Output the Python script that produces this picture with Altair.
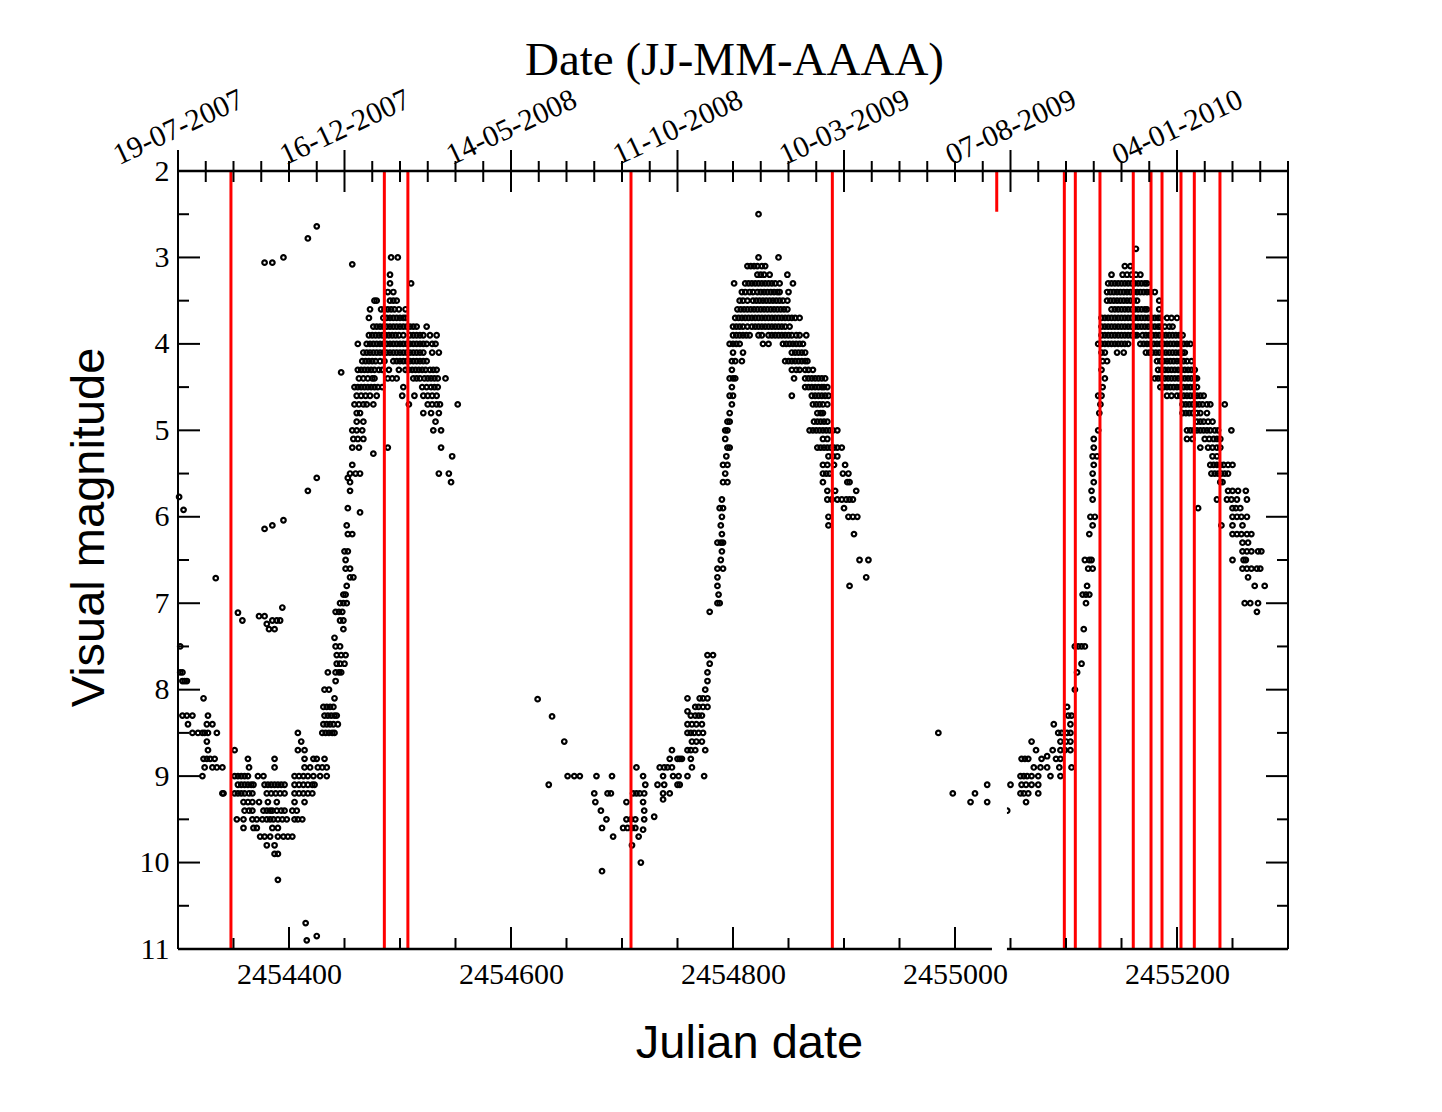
import altair as alt
import pandas as pd

JD0 = 2454300
X_DOMAIN = [2454300, 2455300]
Y_DOMAIN = [2, 11]
W, H = 1110, 778

# Observations: (visual magnitude, [day offsets from JD0])
obs_cycle1 = [
    (5.77, [1]), (5.92, [5]), (6.71, [34]), (7.5, [2]), (7.8, [2, 4]), (7.9, [4, 6, 8]),
    (8.1, [23]), (8.3, [4, 8, 13, 27]), (8.4, [9, 26, 31]), (8.5, [13, 18, 22, 24, 27, 35]),
    (8.6, [26]), (8.7, [27]), (8.8, [23, 26, 29, 33]), (8.9, [24, 31, 35, 40]), (9.0, [22]),
    (9.2, [40, 41]),
    (8.7, [51]), (8.8, [63, 87]), (8.9, [64, 87]), (9.0, [51, 54, 57, 60, 63, 72, 77]),
    (9.1, [54, 57, 60, 63, 66, 68, 78, 81, 84, 87, 90, 93, 96]),
    (9.2, [51, 54, 57, 60, 64, 67, 80, 84, 88, 92, 96]),
    (9.3, [59, 63, 67, 73, 81, 89]),
    (9.4, [60, 64, 67, 77, 80, 83, 85, 89, 93, 96]),
    (9.5, [53, 59, 67, 71, 76, 80, 83, 86, 90, 94, 98]),
    (9.6, [59, 68, 71, 85, 90]), (9.7, [74, 78, 83, 90, 95, 99, 103]),
    (9.8, [80, 87]), (9.9, [87, 90]), (10.2, [90]), (10.7, [115]), (10.85, [125]), (10.9, [116]),
    (8.5, [108]), (8.6, [111]), (8.7, [108, 114]), (8.8, [114, 122, 125, 132]),
    (8.9, [114, 119, 126, 130, 134]), (9.0, [105, 109, 113, 117, 122, 128, 134]),
    (9.1, [105, 109, 113, 117, 121, 123]), (9.2, [105, 109, 113, 117, 121]),
    (9.3, [105, 114]), (9.4, [103, 107]), (9.5, [105, 108, 112]),
    (7.11, [54]), (7.2, [58, 85, 89, 92]), (7.15, [73, 78]), (7.24, [80]), (7.3, [82, 87]),
    (7.05, [94]), (6.14, [78]), (6.1, [85]), (6.04, [95]), (3.06, [78, 85]), (3.0, [95]),
    (2.78, [117]), (2.64, [125]), (5.7, [117]), (5.55, [125]),
    (8.5, [130, 133, 136, 139, 141]), (8.4, [131, 134, 137, 140, 144]),
    (8.3, [132, 135, 138, 141, 143]), (8.2, [131, 134, 137, 140]), (8.1, [141]),
    (8.0, [132, 136]), (7.9, [142]), (7.8, [135, 142, 145, 147]), (7.7, [143, 146, 150]),
    (7.6, [143, 147, 151]), (7.5, [142, 146]), (7.4, [141]), (7.3, [149]), (7.2, [146, 149]),
    (7.1, [142, 145, 148]), (7.0, [146, 149, 152]), (6.9, [149, 151]), (6.8, [152]),
    (6.7, [155, 158]), (6.6, [151, 155]), (6.5, [151]), (6.4, [150, 153]), (6.2, [153, 157]),
    (6.1, [152]), (5.95, [164]), (5.9, [153]), (5.7, [155]), (5.6, [155, 246]), (5.55, [153]),
    (5.5, [155, 160, 164, 235, 244]), (5.4, [157]), (5.27, [176]), (5.3, [247]),
    (5.2, [157, 163, 189, 237]), (5.1, [158, 162, 167]), (5.0, [157, 161, 166, 230, 237]),
    (4.9, [161, 167, 232]), (4.8, [161, 164, 221, 228, 235]),
    (4.7, [159, 163, 167, 170, 176, 208, 225, 229, 233, 236, 252]),
    (4.6, [161, 165, 169, 173, 179, 202, 213, 221, 225, 229, 233]),
    (4.5, [159, 162, 165, 168, 171, 174, 177, 180, 184, 203, 220, 224, 228, 231, 234]),
    (4.4, [163, 167, 171, 175, 177, 189, 193, 197, 212, 215, 218, 222, 225, 228, 231, 234, 241]),
    (4.33, [147]),
    (4.3, [162, 165, 168, 171, 174, 177, 181, 184, 190, 199, 205, 208, 211, 214, 217, 220,
           223, 227, 230, 233]),
    (4.2, [166, 169, 172, 175, 178, 182, 186, 194, 197, 200, 203, 206, 209, 212, 215, 218,
           221, 224]),
    (4.1, [167, 170, 173, 176, 179, 182, 185, 188, 191, 194, 197, 200, 203, 206, 209, 212,
           215, 218, 221, 229, 235]),
    (4.0, [162, 170, 173, 176, 179, 182, 185, 188, 191, 194, 197, 200, 203, 206, 209, 212,
           215, 218, 221, 224, 229, 232]),
    (3.9, [172, 175, 178, 181, 184, 187, 190, 193, 196, 199, 203, 209, 212, 215, 218, 221,
           227, 233]),
    (3.8, [176, 179, 182, 185, 188, 191, 194, 197, 200, 203, 206, 209, 212, 215, 224]),
    (3.7, [172, 185, 188, 191, 194, 197, 200, 203, 205]),
    (3.6, [173, 183, 186, 189, 192, 195, 199, 205]),
    (3.5, [177, 179, 191, 194, 197]), (3.4, [189, 194]), (3.3, [191, 210]), (3.2, [191]),
    (3.08, [157]), (3.0, [192, 198]),
]

obs_cycle2 = [
    (8.11, [324]), (8.31, [337]), (8.6, [348]), (9.1, [334]),
    (9.0, [351, 357, 362, 377, 391]), (9.2, [375, 387, 390]), (9.3, [376]), (9.4, [381]),
    (9.5, [386]), (9.6, [382]), (9.7, [392]), (10.1, [382]),
    (9.3, [404, 419]), (9.5, [404, 408, 412, 420]), (9.6, [401, 405, 409, 412]),
    (9.8, [409]), (10.0, [417]), (9.7, [415]), (9.62, [419]), (9.4, [420]),
    (9.2, [410, 413, 416, 420, 437, 443]), (9.1, [421, 432, 438, 450, 452]),
    (9.0, [419, 437, 446, 451, 459, 474]), (8.9, [413, 434, 438, 441, 445, 463]),
    (9.47, [429]), (9.27, [437]), (8.8, [443, 450, 452, 454, 462]),
    (8.7, [445, 459, 462, 466, 475]), (8.6, [463, 467, 472]), (8.5, [459, 462, 465, 469, 473]),
    (8.4, [459, 463, 467, 472]), (8.25, [459]), (8.3, [462, 466, 469, 472]),
    (8.2, [466, 469, 473, 477]), (8.1, [459, 470, 473, 477]), (8.0, [475]), (7.9, [477]),
    (7.8, [477]), (7.7, [479]), (7.6, [477, 482]),
    (7.1, [479]), (7.0, [486, 488]), (6.9, [487]), (6.8, [486]), (6.7, [486]), (6.6, [486, 491]),
    (6.5, [489]), (6.4, [490]), (6.3, [486, 489, 491]), (6.2, [490]), (6.1, [489]), (6.0, [490]),
    (5.9, [488, 491]), (5.8, [490]), (5.6, [491, 495]), (5.5, [493]), (5.4, [491, 495]),
    (5.3, [494]), (5.2, [495, 497]), (5.1, [493]), (5.0, [493, 495]), (4.9, [495, 497]),
    (4.8, [497]), (4.7, [499]), (4.6, [497, 500]), (4.5, [499]), (4.4, [497, 500, 502]),
    (4.3, [499]), (4.2, [499, 502, 508]), (4.1, [500, 509]),
    (4.0, [497, 500, 503, 506, 527, 532, 545, 548, 551, 554, 557, 560, 563]),
    (3.9, [500, 503, 506, 509, 512, 515, 523, 526, 532, 535, 538, 541, 544, 547, 550, 553,
           557, 560, 566]),
    (3.8, [500, 503, 506, 509, 513, 517, 520, 523, 526, 529, 532, 535, 538, 541, 544, 547, 551]),
    (3.7, [502, 505, 508, 511, 514, 517, 520, 523, 526, 529, 532, 535, 538, 541, 544, 547,
           550, 553, 556, 560]),
    (3.6, [504, 507, 510, 513, 516, 519, 522, 525, 528, 531, 534, 537, 540, 543, 546, 549]),
    (3.5, [506, 509, 513, 518, 521, 524, 527, 530, 533, 536, 539, 542, 545, 549]),
    (3.4, [508, 511, 515, 518, 522, 525, 528, 531, 534, 537, 540, 542, 550]),
    (3.3, [501, 511, 514, 517, 520, 523, 526, 529, 532, 535, 538, 542, 554]),
    (3.2, [522, 525, 528, 533, 549]), (3.1, [513, 516, 519, 522, 526, 529]),
    (3.0, [523, 541]), (2.5, [523]),
    (4.1, [553, 556, 559, 562, 565]), (4.2, [547, 550, 553, 556, 559, 562, 565, 567]),
    (4.3, [553, 557, 560, 565, 568, 572]), (4.4, [555, 565, 568, 571, 574, 577, 580, 583]),
    (4.5, [565, 568, 571, 574, 577, 580, 582, 585]), (4.6, [553, 571, 574, 577, 580, 583, 586]),
    (4.7, [572, 575, 578, 581, 585]), (4.8, [576, 579, 581]), (4.9, [573, 576, 579, 582, 585]),
    (5.0, [569, 572, 575, 578, 581, 584, 587, 590, 594]), (5.1, [581, 585]),
    (5.2, [576, 579, 582, 585, 588, 591, 594, 598]), (5.3, [586, 590, 594]),
    (5.4, [581, 585, 591, 601]), (5.5, [581, 584, 587, 599, 604]), (5.6, [581, 603, 605]),
    (5.7, [585, 592, 611]), (5.8, [585, 589, 594, 598, 602, 605, 608]), (5.9, [600]),
    (6.0, [586, 604, 608, 612]), (6.1, [586]), (6.2, [609]), (6.5, [614, 622]), (6.7, [620]),
    (6.8, [605]),
]

obs_cycle3 = [
    (8.5, [685]), (9.2, [698, 718]), (9.3, [714, 729]), (9.1, [729, 750]), (9.4, [747]),
    (9.0, [759, 762, 765, 769, 775, 786, 795]), (9.1, [760, 764, 769, 775]),
    (9.2, [759, 762, 766, 775]), (9.3, [764]), (8.8, [760, 763, 766, 778, 791, 795]),
    (8.6, [769, 795, 800, 804]), (8.9, [771, 777, 783, 794, 805]),
    (8.7, [773, 788, 795, 799, 804]), (8.77, [783]), (8.4, [789, 804]),
    (8.5, [793, 796, 801, 804]), (8.3, [802, 805]), (8.2, [801]), (8.0, [808]), (7.8, [810]),
    (7.7, [814]), (7.5, [808, 811, 814, 817]), (7.3, [816]), (7.0, [818]),
    (6.9, [815, 818, 821]), (6.8, [819]), (6.6, [820, 824]), (6.5, [817, 821, 823]),
    (6.2, [821, 950, 954, 958, 963, 967]), (6.1, [824, 940, 950, 959]),
    (6.0, [822, 826, 950, 954, 958, 963]), (5.9, [919, 950, 953, 957]),
    (5.8, [824, 936, 945, 949, 954, 963]), (5.7, [823, 946, 950, 955, 962]),
    (5.6, [825, 939, 941]), (5.5, [824, 931, 934, 937, 940, 943, 946]),
    (5.4, [825, 930, 933, 936, 939, 942, 946, 950]), (5.3, [824, 828, 932, 936]),
    (5.2, [825, 921, 928, 932, 936, 939]), (5.1, [825, 909, 914, 925, 929, 933, 936, 939]),
    (5.0, [829, 909, 912, 915, 918, 921, 924, 927, 930, 934, 937, 949]),
    (4.9, [918, 921, 924, 928, 932]), (4.8, [830, 905, 908, 911, 914, 918, 921, 927]),
    (4.7, [831, 905, 908, 911, 914, 917, 920, 923, 927, 930, 943]),
    (4.6, [829, 832, 891, 895, 900, 903, 906, 909, 912, 915, 918, 921, 924]),
    (4.5, [833, 885, 888, 891, 894, 897, 900, 903, 906, 909, 912, 915, 918]),
    (4.4, [835, 880, 883, 886, 889, 892, 895, 898, 901, 904, 907, 910, 913, 916, 918]),
    (4.3, [832, 883, 886, 889, 892, 895, 898, 901, 904, 907, 910, 913, 916]),
    (4.2, [833, 837, 882, 885, 888, 891, 894, 897, 900, 903, 906, 909, 913]),
    (4.1, [832, 835, 846, 852, 872, 875, 878, 881, 884, 887, 890, 893, 896, 899, 902, 905, 907]),
    (4.0, [829, 832, 835, 838, 841, 844, 847, 850, 853, 856, 867, 870, 873, 876, 879, 882,
           885, 888, 891, 894, 897, 900, 903, 906, 909, 912]),
    (3.9, [832, 835, 838, 841, 844, 847, 850, 853, 856, 859, 862, 864, 869, 872, 875, 878,
           881, 884, 887, 890, 893, 896, 899, 902, 905]),
    (3.8, [832, 835, 838, 841, 844, 847, 850, 853, 856, 859, 862, 865, 868, 871, 874, 877,
           880, 883, 885, 889, 893, 896]),
    (3.7, [832, 835, 838, 841, 844, 847, 850, 853, 856, 859, 862, 865, 868, 871, 874, 877,
           880, 883, 885, 891, 895, 900]),
    (3.6, [841, 844, 847, 850, 853, 856, 859, 862, 865, 868, 871, 873, 884]),
    (3.5, [837, 840, 843, 846, 849, 852, 855, 858, 861, 864, 884]),
    (3.4, [837, 840, 843, 846, 849, 852, 855, 858, 861, 864, 867, 870, 873, 876, 880]),
    (3.3, [838, 841, 844, 847, 850, 853, 856, 859, 862, 865, 868, 871, 873]),
    (3.2, [841, 851, 855, 859, 863, 867]), (3.1, [853, 858]), (2.9, [863]),
    (6.3, [959, 964]), (6.4, [959, 963, 967, 973, 976]), (6.5, [950, 960, 962]),
    (6.6, [959, 963, 967, 972, 975]), (6.7, [964]), (6.8, [970, 979]),
    (7.0, [961, 966, 973]), (7.1, [972]),
]

# Red vertical lines (day offsets from JD0)
red_line_days = [47.7, 185.9, 207.1, 408.1, 589.5, 737.6, 798.5, 808.4, 830.6,
                 860.6, 876.6, 886.5, 903.6, 915.6, 938.7]

# Axis tick positions
bottom_labels = [2454400, 2454600, 2454800, 2455000, 2455200]
bottom_major = [2454400, 2454600, 2454800, 2455000, 2455200]
bottom_minor = [2454350, 2454450, 2454500, 2454550, 2454650, 2454700, 2454750,
                2454850, 2454900, 2454950, 2455050, 2455100, 2455150, 2455250]
top_major = [2454300, 2454450, 2454600, 2454750, 2454900, 2455050, 2455200]
top_labels = ["19-07-2007", "16-12-2007", "14-05-2008", "11-10-2008",
              "10-03-2009", "07-08-2009", "04-01-2010"]
top_minor = [2454325, 2454350, 2454375, 2454400, 2454425, 2454475, 2454500, 2454525,
             2454550, 2454575, 2454625, 2454650, 2454675, 2454700, 2454725, 2454775,
             2454800, 2454825, 2454850, 2454875, 2454925, 2454950, 2454975, 2455000,
             2455025, 2455075, 2455100, 2455125, 2455150, 2455175, 2455225, 2455250,
             2455275, 2455300]
y_labels = [2, 3, 4, 5, 6, 7, 8, 9, 10, 11]
y_major = [3, 4, 5, 6, 7, 8, 9, 10]
y_minor = [2.5, 3.5, 4.5, 5.5, 6.5, 7.5, 8.5, 9.5, 10.5]

# white gap that interrupts the bottom axis
gap_x = [2455033.3]
gap_x2 = [2455046.8]
gap_y = [2.47]
gap_y2 = [11.06]

rows = []
for season in (obs_cycle1, obs_cycle2, obs_cycle3):
    for mag, days in season:
        for d in days:
            rows.append({"jd": JD0 + d, "mag": mag})
pts = pd.DataFrame(rows)

xs = alt.Scale(domain=X_DOMAIN, nice=False, zero=False)
ys = alt.Scale(domain=Y_DOMAIN, nice=False, zero=False, reverse=True)

SERIF = "Liberation Serif"
SANS = "Liberation Sans"

bottom_axis = alt.Axis(
    orient="bottom", values=bottom_labels, format="d", ticks=False, tickSize=0,
    domain=False, grid=False, labelFont=SERIF, labelFontSize=30, labelColor="black",
    labelPadding=10, labelFlush=False, labelOverlap=False,
    title="Julian date", titleFont=SANS, titleFontSize=47, titleFontWeight="normal",
    titleColor="black", titleX=571, titleY=108, titleAlign="center",
    titleBaseline="alphabetic",
)
left_axis = alt.Axis(
    orient="left", values=y_labels, format="d", ticks=False, tickSize=0,
    domain=False, grid=False, labelFont=SERIF, labelFontSize=30, labelColor="black",
    labelPadding=9, labelFlush=False, labelOverlap=False,
    title="Visual magnitude", titleFont=SANS, titleFontSize=47, titleFontWeight="normal",
    titleColor="black", titleAngle=270, titleX=-75, titleY=356, titleAlign="center",
    titleBaseline="alphabetic",
)
expr = "''"
for v, lab in reversed(list(zip(top_major, top_labels))):
    expr = f"datum.value == {v} ? '{lab}' : ({expr})"
top_axis = alt.Axis(
    orient="top", values=top_major, labelExpr=expr, ticks=False, tickSize=0,
    domain=False, grid=False, labelFont=SERIF, labelFontSize=30, labelColor="black",
    labelAngle=335, labelAlign="center", labelBaseline="middle", labelPadding=44,
    labelFlush=False, labelOverlap=False, labelBound=False,
    title="Date (JJ-MM-AAAA)", titleFont=SERIF, titleFontSize=47, titleFontWeight="normal",
    titleColor="black", titleX=556, titleY=-97, titleAlign="center",
    titleBaseline="alphabetic",
)

points = alt.Chart(pts).mark_point(
    shape="circle", filled=False, stroke="black", strokeWidth=2.2, size=21, opacity=1
).encode(
    x=alt.X("jd:Q", scale=xs, axis=bottom_axis),
    y=alt.Y("mag:Q", scale=ys, axis=left_axis),
)

red_df = pd.DataFrame({"jd": [JD0 + d for d in red_line_days]})
red = alt.Chart(red_df).mark_rule(stroke="#ff0000", strokeWidth=3).encode(
    x=alt.X("jd:Q", scale=xs, axis=None)
)

frame_h = alt.Chart(pd.DataFrame({"mag": Y_DOMAIN})).mark_rule(
    stroke="black", strokeWidth=2.5
).encode(y=alt.Y("mag:Q", scale=ys, axis=None))
frame_v = alt.Chart(pd.DataFrame({"jd": X_DOMAIN})).mark_rule(
    stroke="black", strokeWidth=2
).encode(x=alt.X("jd:Q", scale=xs, axis=None))


def xticks(values, y0, y1, axis=None):
    return alt.Chart(pd.DataFrame({"jd": values})).mark_rule(
        stroke="black", strokeWidth=2
    ).encode(
        x=alt.X("jd:Q", scale=xs, axis=axis),
        y=alt.value(y0), y2=alt.value(y1),
    )


def yticks(values, x0, x1):
    return alt.Chart(pd.DataFrame({"mag": values})).mark_rule(
        stroke="black", strokeWidth=2
    ).encode(
        y=alt.Y("mag:Q", scale=ys, axis=None),
        x=alt.value(x0), x2=alt.value(x1),
    )


top_major_ticks = xticks(top_major, -21, 21, axis=top_axis)
top_minor_ticks = xticks(top_minor, -10, 11)
bot_major_ticks = xticks(bottom_major, H - 22, H)
bot_minor_ticks = xticks(bottom_minor, H - 11, H)
left_major = yticks(y_major, 0, 22)
left_minor = yticks(y_minor, 0, 11)
right_major = yticks(y_major, W - 22, W)
right_minor = yticks(y_minor, W - 11, W)

gap_df = pd.DataFrame({"x": gap_x, "x2": gap_x2, "y": gap_y, "y2": gap_y2})
gap = alt.Chart(gap_df).mark_rect(fill="white", stroke=None).encode(
    x=alt.X("x:Q", scale=xs, axis=None), x2="x2:Q",
    y=alt.Y("y:Q", scale=ys, axis=None), y2="y2:Q",
)

chart = alt.layer(
    points, red, frame_h, frame_v,
    top_major_ticks, top_minor_ticks, bot_major_ticks, bot_minor_ticks,
    left_major, left_minor, right_major, right_minor, gap,
).resolve_axis(
    x="independent", y="independent"
).properties(
    width=W, height=H,
    padding={"left": 170, "top": 163, "right": 20, "bottom": 150},
    autosize=alt.AutoSizeParams(type="none"),
    background="white",
).configure_view(stroke=None)

chart.save("out.html", embed_options={"renderer": "svg", "actions": False})
